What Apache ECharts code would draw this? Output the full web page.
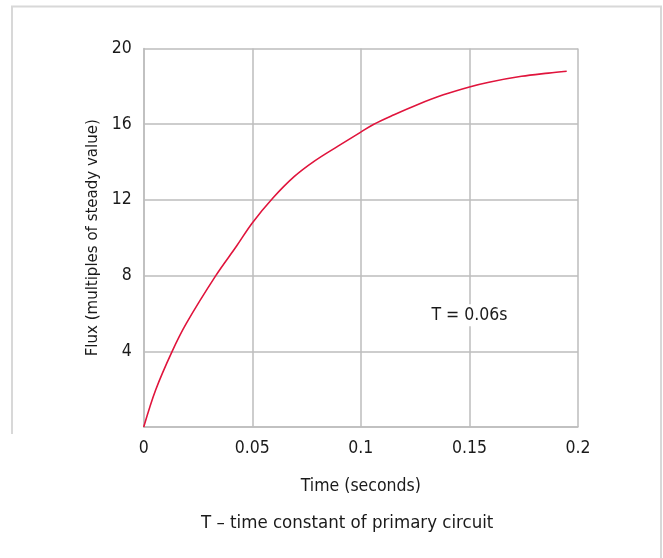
<!DOCTYPE html>
<html>
<head>
<meta charset="utf-8">
<script src="https://cdn.jsdelivr.net/npm/echarts@6/dist/echarts.min.js"></script>
<style>
html,body{margin:0;padding:0;background:#fff;}
#chart{width:663px;height:558px;}
</style>
</head>
<body>
<div id="chart"></div>
<script>
var timeValues = [0, 0.0055, 0.0131, 0.0197, 0.0332, 0.0427, 0.05, 0.0595, 0.0694, 0.0786, 0.0893, 0.0998, 0.106, 0.1153, 0.126, 0.138, 0.15, 0.159, 0.174, 0.1864, 0.1948];
var fluxValues = [0, 1.96, 4, 5.49, 8, 9.55, 10.78, 12.1, 13.24, 14.05, 14.83, 15.57, 16.0, 16.5, 17.03, 17.55, 17.97, 18.22, 18.53, 18.7, 18.8];
var annotationText = 'T = 0.06s';
var annotationPos = [0.15, 5.9];
var xTitle = 'Time (seconds)';
var yTitle = 'Flux (multiples of steady value)';
var caption = 'T \u2013 time constant of primary circuit';

var FONT = '"DejaVu Sans Condensed", "Liberation Sans Narrow", "DejaVu Sans", sans-serif';
var TXT = '#1a1a1a';
var GRID = '#bdbdbd';

var pts = timeValues.map(function (t, i) { return [t, fluxValues[i]]; });

var chart = echarts.init(document.getElementById('chart'));
chart.setOption({
  animation: false,
  backgroundColor: '#fff',
  textStyle: { fontFamily: FONT },
  title: {
    text: caption,
    left: 196,
    top: 509,
    textStyle: { fontFamily: FONT, fontSize: 18.5, fontWeight: 'normal', color: TXT }
  },
  graphic: [{
    type: 'polyline',
    shape: { points: [[12, 434], [12, 6.5], [661, 6.5], [661, 558]] },
    style: { stroke: '#d8d8d8', lineWidth: 2, fill: null },
    silent: true
  }],
  grid: { left: 143.7, right: 85, top: 48.5, bottom: 131, containLabel: false },
  xAxis: {
    type: 'value',
    min: 0, max: 0.2, interval: 0.05,
    name: xTitle,
    nameLocation: 'middle',
    nameGap: 50,
    nameTextStyle: { fontFamily: FONT, fontSize: 17.5, color: TXT },
    axisLine: { show: true, lineStyle: { color: GRID, width: 1.5 } },
    axisTick: { show: false },
    axisLabel: { color: TXT, fontFamily: FONT, fontSize: 17.5, margin: 12 },
    splitLine: { show: true, lineStyle: { color: GRID, width: 1.5 } }
  },
  yAxis: {
    type: 'value',
    min: 0, max: 20, interval: 4,
    name: yTitle,
    nameLocation: 'middle',
    nameGap: 39,
    nameTextStyle: { fontFamily: FONT, fontSize: 16.7, color: TXT },
    axisLine: { show: true, lineStyle: { color: GRID, width: 1.5 } },
    axisTick: { show: false },
    axisLabel: {
      color: TXT, fontFamily: FONT, fontSize: 17.5, margin: 12,
      formatter: function (v) { return v === 0 ? '' : String(v); }
    },
    splitLine: { show: true, lineStyle: { color: GRID, width: 1.5 } }
  },
  series: [{
    type: 'line',
    data: pts,
    smooth: 0.35,
    showSymbol: false,
    symbol: 'none',
    lineStyle: { color: '#e0143c', width: 1.6 }
  }, {
    type: 'scatter',
    data: [annotationPos],
    symbolSize: 0,
    itemStyle: { opacity: 1 },
    label: {
      show: true,
      position: 'inside',
      formatter: annotationText,
      color: TXT,
      fontFamily: FONT,
      fontSize: 17.5,
      backgroundColor: '#fff',
      padding: [2, 4]
    },
    silent: true
  }]
});
</script>
</body>
</html>
